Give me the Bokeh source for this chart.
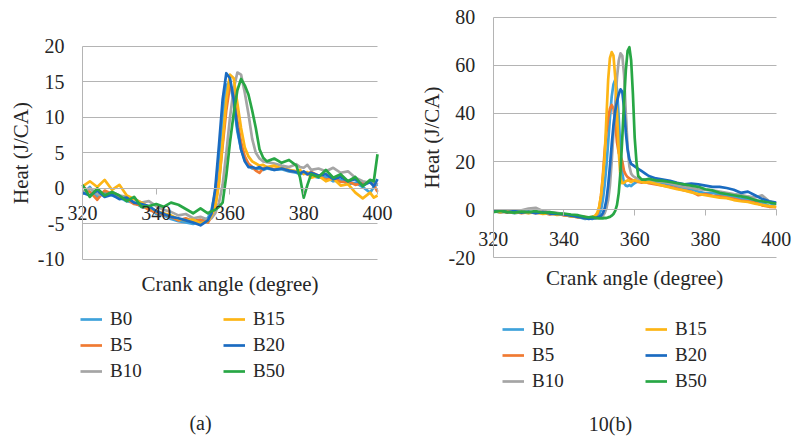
from bokeh.plotting import figure
from bokeh.layouts import row
from bokeh.models import Range1d, FixedTicker, Legend, LegendItem, Label, ColumnDataSource
from bokeh.embed import file_html
from bokeh.resources import INLINE

series_names = ["B0", "B5", "B10", "B15", "B20", "B50"]
colors = ["#3FA2DB", "#F07A32", "#A5A5A5", "#FDB515", "#1A6BC1", "#28A745"]

x_ticks = [320, 340, 360, 380, 400]
y_ticks_a = [-10, -5, 0, 5, 10, 15, 20]
y_ticks_b = [-20, 0, 20, 40, 60, 80]

# ---- chart (a) ----
x_a = [320, 322, 324, 326, 328, 330, 332, 334, 336, 338, 340, 342, 344, 346, 348, 350, 352, 354,
       355, 356, 357, 358, 359, 360, 361, 362, 363, 364, 365, 366, 367, 368, 369, 370,
       372, 374, 376, 378, 379, 380, 381, 382, 384, 386, 388, 390, 392, 394, 396, 398, 399, 400]

a_B0 = [-0.8, 0.2, -1.2, -0.5, -1.0, -1.3, -1.8, -2.0, -2.6, -2.8, -3.6, -3.8, -4.3, -4.6, -4.8, -5.0, -4.6, -4.2,
        -3.0, -0.5, 4.0, 10.0, 14.5, 15.0, 12.0, 8.0, 5.5, 4.0, 3.2, 2.8, 2.7, 2.8, 2.6, 2.8,
        2.6, 2.7, 2.4, 2.2, 2.0, 2.1, 2.0, 1.8, 1.5, 1.6, 1.0, 1.2, 0.6, 0.8, 0.2, -0.6, 0.2, 0.6]
a_B5 = [0.3, -0.5, -1.6, -0.3, -0.8, -1.2, -1.5, -2.2, -2.4, -3.0, -3.4, -3.7, -4.0, -4.5, -4.2, -4.6, -4.4, -4.8,
        -4.0, -2.5, 1.0, 6.0, 11.0, 14.5, 13.5, 9.5, 6.5, 4.5, 3.5, 3.0, 2.5, 2.2, 2.8, 3.0,
        2.7, 2.9, 2.5, 2.4, 2.3, 2.2, 2.0, 2.3, 1.8, 1.2, 1.5, 0.9, 1.0, 0.5, 0.8, 0.8, 0.5, -0.5]
a_B10 = [-0.5, 0.0, -0.8, -1.0, -0.5, -1.0, -1.2, -1.5, -2.0, -1.8, -2.5, -3.0, -3.3, -3.8, -3.6, -4.2, -4.0, -4.4,
         -4.2, -3.5, -2.0, 0.5, 5.0, 10.0, 14.0, 16.3, 16.0, 13.5, 10.5, 7.0, 5.0, 4.2, 3.8, 3.7,
         3.5, 3.2, 3.0, 3.4, 3.0, 2.9, 3.3, 2.6, 2.8, 2.4, 2.9, 2.2, 2.4, 1.5, 1.0, 0.8, 1.0, 0.5]
a_B15 = [0.3, 1.0, 0.2, 1.2, -0.2, 0.5, -1.0, -1.5, -2.0, -2.6, -3.2, -3.5, -3.8, -4.3, -4.5, -4.4, -4.9, -4.6,
         -3.8, -2.5, 0.5, 6.5, 12.5, 16.0, 15.5, 12.0, 8.5, 5.8, 4.5, 3.8, 3.5, 3.2, 3.3, 3.0,
         3.2, 2.8, 2.6, 2.4, 2.6, 2.0, 2.3, 1.5, 1.8, 1.0, 1.4, 0.4, 0.6, -0.6, -1.4, -0.6, -1.3, -1.0]
a_B20 = [-0.6, -1.0, -0.3, -1.2, -0.9, -1.5, -1.3, -2.0, -2.2, -2.5, -3.2, -3.6, -4.0, -4.2, -4.5, -4.8, -5.2, -4.5,
         -3.5, 0.0, 6.0, 12.5, 16.2, 15.5, 12.5, 8.5, 5.5, 3.8, 3.0, 3.0, 2.8, 3.0, 2.7, 2.9,
         2.6, 2.8, 2.5, 2.3, 2.1, 2.4, 2.0, 2.2, 1.8, 2.0, 1.3, 1.6, 1.0, 1.3, 0.4, 0.9, 0.3, 1.3]
a_B50 = [0.5, -1.2, 0.0, -1.0, -0.5, -1.0, -1.8, -1.2, -2.6, -2.5, -2.2, -2.6, -2.0, -2.3, -2.9, -3.5, -2.8, -3.5,
         -3.2, -3.0, -2.6, -2.0, 1.8, 6.5, 10.5, 13.8, 15.4, 14.5, 13.2, 11.0, 8.5, 5.5, 4.3, 3.8,
         4.2, 3.6, 4.0, 3.2, 1.5, -1.3, 0.5, 2.0, 1.6, 2.6, 1.5, 2.0, 1.0, 1.6, 0.3, 1.2, 1.0, 4.8]

# ---- chart 10(b) ----
x_b = [320, 322, 324, 326, 328, 330, 332, 334, 336, 338, 340, 342, 344, 346, 347, 348,
       348.5, 349, 349.5, 350, 350.5, 351, 351.5, 352, 352.5, 353, 353.5, 354, 354.5, 355, 355.5,
       356, 356.5, 357, 357.5, 358, 358.5, 359, 359.5, 360, 360.5, 361, 362, 363, 364,
       366, 368, 370, 372, 374, 376, 378, 380, 382, 384, 386, 388, 390, 392, 394, 396, 398, 400]

b_B0 = [-0.5, -1.0, -0.8, -1.5, -1.0, -1.3, -0.8, -1.5, -1.8, -1.6, -2.2, -2.8, -3.0, -3.8, -3.5, -3.8,
        -3.6, -3.5, -3.0, -2.0, 0.0, 4.0, 10.0, 18.0, 28.0, 38.0, 47.0, 52.0, 54.0, 50.0, 38.0,
        24.0, 15.0, 11.0, 10.0, 9.8, 10.2, 9.8, 10.5, 11.0, 11.5, 12.0, 12.3, 12.0, 12.0,
        11.5, 11.0, 10.5, 9.8, 9.0, 8.5, 7.5, 6.8, 7.0, 6.3, 5.8, 5.2, 4.5, 4.2, 3.5, 3.0, 1.5, 2.5]
b_B5 = [-0.8, -0.5, -1.2, -0.8, -1.5, -1.0, -1.4, -1.2, -2.0, -1.5, -2.4, -2.6, -3.2, -3.0, -3.4, -3.2,
        -3.0, -2.5, -1.5, 1.0, 6.0, 14.0, 24.0, 32.0, 38.0, 42.0, 43.5, 42.0, 36.0, 28.0, 23.5,
        22.0, 20.0, 16.0, 14.5, 13.5, 13.0, 12.5, 12.2, 12.0, 12.0, 11.5, 11.2, 11.5, 11.0,
        10.5, 10.0, 9.5, 8.8, 8.0, 7.5, 6.0, 6.5, 5.8, 5.5, 5.0, 4.5, 3.8, 3.5, 3.0, 1.8, 1.2, 1.0]
b_B10 = [-0.5, -1.2, -0.5, -1.0, -0.3, 0.5, 0.8, -0.5, -1.0, -1.3, -1.8, -2.5, -3.0, -3.2, -3.5, -3.3,
         -3.4, -3.5, -3.5, -3.3, -3.0, -2.5, -1.5, 0.5, 4.0, 10.0, 20.0, 32.0, 44.0, 55.0, 62.0,
         65.0, 64.0, 56.0, 40.0, 26.0, 18.0, 15.0, 14.0, 13.5, 13.0, 13.0, 12.5, 12.5, 12.3,
         12.0, 11.5, 11.0, 10.2, 9.5, 9.0, 8.5, 8.2, 8.0, 7.5, 7.0, 6.5, 6.2, 5.5, 5.0, 6.0, 3.5, 2.5]
b_B15 = [-0.3, -1.0, -0.6, -1.3, -1.0, -1.5, -1.0, -1.8, -1.5, -2.2, -2.0, -2.8, -3.0, -3.5, -3.3, -3.0,
         -2.8, -2.2, -1.0, 1.5, 6.0, 13.0, 22.0, 38.0, 54.0, 63.0, 65.5, 64.0, 55.0, 40.0, 24.0,
         13.0, 11.0, 11.2, 11.8, 12.2, 12.0, 11.5, 12.0, 12.3, 12.0, 11.8, 11.5, 11.2, 11.5,
         10.8, 10.0, 9.2, 8.5, 8.0, 7.2, 6.5, 6.0, 5.5, 5.0, 4.8, 4.0, 3.5, 3.2, 2.5, 2.0, 1.5, 1.2]
b_B20 = [-0.8, -0.3, -1.0, -0.6, -1.2, -0.8, -1.5, -1.0, -1.6, -1.8, -2.0, -2.5, -3.0, -3.5, -3.8, -3.6,
         -3.5, -3.4, -3.2, -3.0, -2.5, -1.5, 0.5, 4.0, 10.0, 18.0, 27.0, 35.0, 41.0, 45.0, 48.0,
         50.0, 49.0, 42.0, 32.0, 25.0, 21.0, 19.0, 18.5, 18.0, 17.5, 17.0, 16.0, 15.0, 14.0,
         13.0, 12.5, 12.0, 11.2, 10.5, 10.8, 10.5, 10.0, 9.5, 9.5, 9.0, 8.3, 7.0, 7.5, 6.0, 4.5, 3.5, 3.0]
b_B50 = [-1.0, -0.5, -1.0, -1.2, -0.8, -1.0, -0.6, -1.3, -1.0, -1.5, -1.6, -2.0, -2.3, -3.0, -3.2, -3.0,
         -3.2, -3.4, -3.5, -3.6, -3.5, -3.6, -3.4, -3.5, -3.2, -3.0, -2.5, -1.8, -0.5, 2.0, 7.0,
         16.0, 30.0, 45.0, 58.0, 66.0, 67.5, 62.0, 48.0, 30.0, 20.0, 14.0, 12.5, 12.5, 12.8,
         12.2, 12.0, 11.5, 11.0, 10.5, 10.0, 9.5, 8.5, 8.0, 7.0, 6.5, 6.0, 5.5, 5.0, 4.0, 3.5, 3.0, 2.5]

series_a = [a_B0, a_B5, a_B10, a_B15, a_B20, a_B50]
series_b = [b_B0, b_B5, b_B10, b_B15, b_B20, b_B50]

FONT = "Liberation Serif"
TXT = "#262626"
GRID = "#B4B4B4"
X_BOUNDS = (320, 400)
FIG_H = 436


def make_chart(xs, ys_list, x_view, y_view, y_bounds, y_ticks, fig_w,
               xlabel_standoff, caption, cap_x, cap_y, title_y, legend_xy):
    p = figure(frame_width=fig_w, frame_height=FIG_H, output_backend="svg",
               toolbar_location=None,
               x_range=Range1d(*x_view), y_range=Range1d(*y_view),
               min_border_left=0, min_border_right=0,
               min_border_top=0, min_border_bottom=0)
    p.outline_line_color = None
    p.background_fill_color = "white"
    p.border_fill_color = "white"

    p.xgrid.visible = False
    yg = p.ygrid[0]
    yg.grid_line_color = GRID
    yg.grid_line_width = 1
    yg.ticker = FixedTicker(ticks=y_ticks)
    yg.bounds = y_bounds
    yg.cross_bounds = X_BOUNDS

    xa = p.xaxis[0]
    xa.ticker = FixedTicker(ticks=x_ticks)
    xa.fixed_location = 0
    xa.bounds = X_BOUNDS
    xa.axis_line_color = GRID
    xa.major_tick_line_color = GRID
    xa.major_tick_out = 6
    xa.major_tick_in = 0
    xa.minor_tick_line_color = None
    xa.major_label_standoff = xlabel_standoff
    xa.major_label_text_font = FONT
    xa.major_label_text_font_size = "20px"
    xa.major_label_text_color = TXT

    ya = p.yaxis[0]
    ya.ticker = FixedTicker(ticks=y_ticks)
    ya.fixed_location = X_BOUNDS[0]
    ya.bounds = y_bounds
    ya.axis_line_color = GRID
    ya.major_tick_line_color = None
    ya.minor_tick_line_color = None
    ya.major_tick_out = 0
    ya.major_tick_in = 0
    ya.major_label_standoff = 18
    ya.major_label_text_font = FONT
    ya.major_label_text_font_size = "20px"
    ya.major_label_text_color = TXT
    ya.major_label_overrides = {t: str(t) for t in y_ticks if t < 0}
    ya.axis_label = "Heat (J/CA)"
    ya.axis_label_text_font = FONT
    ya.axis_label_text_font_size = "21px"
    ya.axis_label_text_font_style = "normal"
    ya.axis_label_text_color = TXT
    ya.axis_label_standoff = 2

    items = []
    for name, col, ys in zip(series_names, colors, ys_list):
        src = ColumnDataSource(dict(x=xs, y=ys))
        r = p.line("x", "y", source=src, line_color=col, line_width=2.7, line_join="round")
        items.append(LegendItem(label=name, renderers=[r]))

    p.add_layout(Label(x=360, y=title_y, x_units="data", y_units="screen",
                       text="Crank angle (degree)", text_align="center", text_baseline="middle",
                       text_font=FONT, text_font_size="21px", text_color=TXT))

    leg = Legend(items=items, ncols=2, location=legend_xy, margin=0, padding=0,
                 border_line_color=None, background_fill_alpha=0,
                 label_text_font=FONT, label_text_font_size="19px", label_text_color=TXT,
                 glyph_width=22, glyph_height=22, label_height=22, label_standoff=8,
                 label_width=109, spacing=4)
    p.add_layout(leg, "center")

    p.add_layout(Label(x=cap_x, y=cap_y, x_units="screen", y_units="screen",
                       text=caption, text_align="center", text_baseline="middle",
                       text_font=FONT, text_font_size="20px", text_color=TXT))
    return p


pa = make_chart(x_a, series_a, (297.76, 406.24), (-34.90, 26.43), (-10, 20), y_ticks_a, 400,
                12, "(a)", 200, 14, 153, (80, 54.5))
pb = make_chart(x_b, series_b, (293.80, 406.59), (-94.27, 86.94), (-20, 80), y_ticks_b, 399,
                16, "10(b)", 210, 13, 159, (102, 44.5))

layout = row(pa, pb)
open("out.html", "w").write(file_html(layout, INLINE))
